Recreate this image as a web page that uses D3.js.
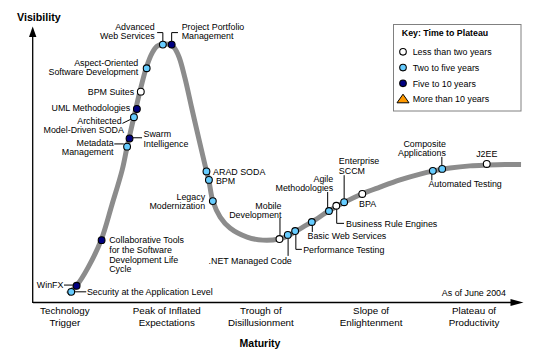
<!DOCTYPE html>
<html>
<head>
<meta charset="utf-8">
<script src="https://cdn.jsdelivr.net/npm/d3@7/dist/d3.min.js"></script>
<style>
  html, body { margin: 0; padding: 0; background: #fff; }
  svg { display: block; font-family: "Liberation Sans", Arial, sans-serif; }
</style>
</head>
<body>
<svg id="chart" width="535" height="357"></svg>
<script>
// ---------------- DATA ----------------
// Hype curve (maturity 0-100, visibility 0-100)
const curveX = [7.1, 9.0, 11.2, 13.9, 16.1, 18.2, 19.2, 20.6, 21.8, 23.1, 24.3, 25.3, 26.5, 27.8, 28.8, 29.8, 31.0, 32.4, 33.9, 35.1, 35.9, 36.7, 38.2, 40.2, 43.7, 46.9, 50.2, 52.0, 53.7, 56.9, 60.4, 63.7, 67.1, 70.8, 74.9, 79.0, 81.6, 85.1, 89.2, 92.7, 96.3, 99.6];
const curveY = [2.9, 6.2, 12.4, 22.5, 35.3, 48.0, 56.4, 67.3, 76.4, 85.1, 90.5, 93.0, 93.7, 93.7, 92.5, 89.1, 81.5, 70.5, 58.9, 49.8, 44.0, 36.7, 30.9, 26.9, 23.6, 22.5, 22.9, 24.0, 25.8, 29.1, 33.1, 36.4, 39.3, 41.8, 44.4, 46.5, 47.6, 48.7, 49.5, 49.8, 50.0, 50.0];

// Technologies
const techNames = [
  "Security at the Application Level", "WinFX", "Collaborative Tools for the Software Development Life Cycle",
  "Metadata Management", "Swarm Intelligence", "Architected Model-Driven SODA", "UML Methodologies",
  "BPM Suites", "Aspect-Oriented Software Development", "Advanced Web Services", "Project Portfolio Management",
  "ARAD SODA", "BPM", "Legacy Modernization", "Mobile Development", ".NET Managed Code",
  "Performance Testing", "Basic Web Services", "Agile Methodologies", "Business Rule Engines",
  "Enterprise SCCM", "BPA", "Automated Testing", "Composite Applications", "J2EE"
];
const techX = [7.8, 8.9, 14.0, 19.2, 19.7, 20.6, 21.2, 22.0, 23.2, 26.5, 28.3, 35.4, 35.9, 36.7, 50.3, 52.0, 53.5, 56.9, 60.4, 61.9, 63.5, 67.2, 81.6, 83.5, 92.6];
const techY = [3.7, 5.9, 22.5, 56.5, 59.5, 67.2, 70.2, 76.5, 85.0, 93.6, 93.6, 47.5, 44.4, 36.7, 22.9, 24.4, 25.8, 29.1, 33.1, 35.0, 36.3, 39.3, 47.7, 48.4, 50.2];
// 0 = less than two years, 1 = two to five, 2 = five to 10, 3 = more than 10
const techPlateau = [1, 2, 2, 1, 2, 1, 2, 0, 1, 1, 2, 1, 1, 1, 0, 1, 1, 1, 1, 0, 1, 0, 1, 1, 0];

const plateauCategories = ["Less than two years", "Two to five years", "Five to 10 years", "More than 10 years"];
const phaseLabels = [["Technology", "Trigger"], ["Peak of Inflated", "Expectations"], ["Trough of", "Disillusionment"], ["Slope of", "Enlightenment"], ["Plateau of", "Productivity"]];
const phaseX = [6.5, 27.3, 46.5, 69.0, 90.0];

// ---------------- STYLE / LAYOUT ----------------
const plateauFill = ["#ffffff", "#66ccff", "#000080", "#ff9900"];
const FS = 8.9;

// label layout: pixel offsets relative to marker
const labelLayout = {
  "Security at the Application Level": { anchor: "start", dx: 15.7, dys: [0], lines: ["Security at the Application Level"], conn: [[3, 0], [15, 0]] },
  "WinFX": { anchor: "end", dx: -13.2, dys: [-0.7], lines: ["WinFX"], conn: [[-3, -0.7], [-12.6, -0.7]] },
  "Collaborative Tools for the Software Development Life Cycle": { anchor: "start", dx: 7.6, dys: [0, 9.7, 19.3, 29], lines: ["Collaborative Tools", "for the Software", "Development Life", "Cycle"] },
  "Metadata Management": { anchor: "end", dx: -13.5, dys: [-4, 5], lines: ["Metadata", "Management"], conn: [[-3.3, -2.7], [-12.8, -2.7]] },
  "Swarm Intelligence": { anchor: "start", dx: 14, dys: [-4.5, 5.7], lines: ["Swarm", "Intelligence"], conn: [[3.3, -0.6], [12.5, -0.6]] },
  "Architected Model-Driven SODA": { anchor: "end", dxs: [-12.3, -10], dys: [3.85, 12.85], lines: ["Architected", "Model-Driven SODA"], conn: [[-3, 2], [-11.5, 6.2]] },
  "UML Methodologies": { anchor: "end", dx: -6.7, dys: [-0.7], lines: ["UML Methodologies"] },
  "BPM Suites": { anchor: "end", dx: -6.7, dys: [0], lines: ["BPM Suites"] },
  "Aspect-Oriented Software Development": { anchor: "end", dx: -8.4, dys: [-5.65, 3.35], lines: ["Aspect-Oriented", "Software Development"] },
  "Advanced Web Services": { anchor: "end", dx: -8.2, dys: [-17.7, -8.7], lines: ["Advanced", "Web Services"], conn: [[0, -3.3], [0, -12], [-5.7, -12]] },
  "Project Portfolio Management": { anchor: "start", dx: 10, dys: [-17.7, -8.7], lines: ["Project Portfolio", "Management"], conn: [[0, -3.3], [0, -12], [6.3, -12]] },
  "ARAD SODA": { anchor: "start", dx: 6.6, dys: [0], lines: ["ARAD SODA"] },
  "BPM": { anchor: "start", dx: 7, dys: [0.5], lines: ["BPM"] },
  "Legacy Modernization": { anchor: "end", dx: -7.7, dys: [-4.3, 5], lines: ["Legacy", "Modernization"] },
  "Mobile Development": { anchor: "end", dx: 2, dys: [-33.35, -24.35], lines: ["Mobile", "Development"], conn: [[0.5, -3.3], [0.5, -21]] },
  ".NET Managed Code": { anchor: "end", dx: 4, dys: [26], lines: [".NET Managed Code"], conn: [[0.3, 3.3], [0.3, 21]] },
  "Performance Testing": { anchor: "start", dx: 8, dys: [18.3], lines: ["Performance Testing"], conn: [[0.7, 3.3], [0.7, 18.3], [6.7, 18.3]] },
  "Basic Web Services": { anchor: "start", dx: -4.3, dys: [14], lines: ["Basic Web Services"], conn: [[0.5, 3.3], [0.5, 10]] },
  "Agile Methodologies": { anchor: "end", dx: 4.3, dys: [-31.85, -22.85], lines: ["Agile", "Methodologies"], conn: [[-1.3, -3.3], [-1.3, -19]] },
  "Business Rule Engines": { anchor: "start", dx: 9.7, dys: [17.6], lines: ["Business Rule Engines"], conn: [[0.4, 3.3], [0.4, 17.6], [7.7, 17.6]] },
  "Enterprise SCCM": { anchor: "start", dx: -5.3, dys: [-41.3, -31.6], lines: ["Enterprise", "SCCM"], conn: [[0, -3.3], [0, -27]] },
  "BPA": { anchor: "start", dx: -3.3, dys: [10.3], lines: ["BPA"] },
  "Automated Testing": { anchor: "start", dx: -4.4, dys: [13.3], lines: ["Automated Testing"], conn: [[-1, 3.3], [-1, 9.5]] },
  "Composite Applications": { anchor: "end", dx: 3.7, dys: [-25.15, -16.15], lines: ["Composite", "Applications"], conn: [[-0.3, -3.3], [-0.3, -12]] },
  "J2EE": { anchor: "middle", dx: 0, dys: [-10.5], lines: ["J2EE"] }
};

// ---------------- DRAW ----------------
const svg = d3.select("#chart");
const x = d3.scaleLinear().domain([0, 100]).range([33, 523]);
const y = d3.scaleLinear().domain([0, 100]).range([302, 27]);

// axes
const axisG = svg.append("g");
axisG.append("line").attr("x1", x(0)).attr("x2", 511).attr("y1", y(0) + 0.5).attr("y2", y(0) + 0.5)
  .attr("stroke", "#000").attr("stroke-width", 1.3);
axisG.append("line").attr("x1", x(0) - 0.3).attr("x2", x(0) - 0.3).attr("y1", y(0) + 1).attr("y2", 36)
  .attr("stroke", "#000").attr("stroke-width", 1.3);
axisG.append("path").attr("d", `M510.5,${y(0) + 0.5 - 3.6}L523.5,${y(0) + 0.5}L510.5,${y(0) + 0.5 + 3.6}Z`).attr("fill", "#000");
axisG.append("path").attr("d", `M${x(0) - 0.3 - 3.7},37L${x(0) - 0.3},26.5L${x(0) - 0.3 + 3.7},37Z`).attr("fill", "#000");

// axis titles
svg.append("text").attr("x", 17).attr("y", 20.5).attr("font-size", 10.7).attr("font-weight", "bold").text("Visibility");
svg.append("text").attr("x", 260).attr("y", 347).attr("text-anchor", "middle").attr("font-size", 10.5).attr("font-weight", "bold").text("Maturity");

// phase labels
const phaseG = svg.append("g").attr("font-size", 9.8).attr("text-anchor", "middle");
phaseLabels.forEach((lines, i) => {
  const t = phaseG.append("text").attr("x", x(phaseX[i])).attr("y", 314.3);
  lines.forEach((ln, j) => t.append("tspan").attr("x", x(phaseX[i])).attr("dy", j === 0 ? 0 : 12).text(ln));
});

svg.append("text").attr("x", 506).attr("y", 296.3).attr("text-anchor", "end").attr("font-size", FS).text("As of June 2004");

// hype curve
const pts = curveX.map((v, i) => [x(v), y(curveY[i])]);
svg.append("path").attr("d", d3.line().curve(d3.curveCatmullRom.alpha(0.5))(pts))
  .attr("fill", "none").attr("stroke", "#8c8c8c").attr("stroke-width", 5);

// connectors + labels
const labG = svg.append("g").attr("font-size", FS).attr("fill", "#000");
const connG = svg.append("g").attr("stroke", "#000").attr("stroke-width", 1).attr("fill", "none");
techNames.forEach((name, i) => {
  const px = x(techX[i]), py = y(techY[i]);
  const L = labelLayout[name];
  if (L.conn) {
    connG.append("path").attr("d", d3.line()(L.conn.map(p => [px + p[0], py + p[1]])));
  }
  L.lines.forEach((ln, j) => {
    const dx = L.dxs ? L.dxs[j] : L.dx;
    labG.append("text").attr("x", px + dx).attr("y", py + L.dys[j] + 3.2)
      .attr("text-anchor", L.anchor).text(ln);
  });
});

// markers
svg.append("g").selectAll("circle").data(techNames).join("circle")
  .attr("cx", (d, i) => x(techX[i])).attr("cy", (d, i) => y(techY[i]))
  .attr("r", 3.4)
  .attr("fill", (d, i) => plateauFill[techPlateau[i]])
  .attr("stroke", "#000").attr("stroke-width", 1.1);

// legend
const lg = svg.append("g");
lg.append("rect").attr("x", 393.5).attr("y", 24.5).attr("width", 127.5).attr("height", 86.5)
  .attr("fill", "#fff").attr("stroke", "#808080").attr("stroke-width", 1);
lg.append("text").attr("x", 401.8).attr("y", 36.3).attr("font-size", 8.8).attr("font-weight", "bold").text("Key: Time to Plateau");
const legY = [51.8, 67.6, 83.3, 99.2];
plateauCategories.forEach((c, i) => {
  if (i < 3) {
    lg.append("circle").attr("cx", 403).attr("cy", legY[i]).attr("r", 3.3)
      .attr("fill", plateauFill[i]).attr("stroke", "#000").attr("stroke-width", 1.1);
  } else {
    lg.append("path").attr("d", `M397,${legY[i] + 3.6}L403,${legY[i] - 5}L409,${legY[i] + 3.6}Z`)
      .attr("fill", plateauFill[i]).attr("stroke", "#000").attr("stroke-width", 1);
  }
  lg.append("text").attr("x", 412.7).attr("y", legY[i] + 3.2).attr("font-size", FS).text(c);
});
</script>
</body>
</html>
